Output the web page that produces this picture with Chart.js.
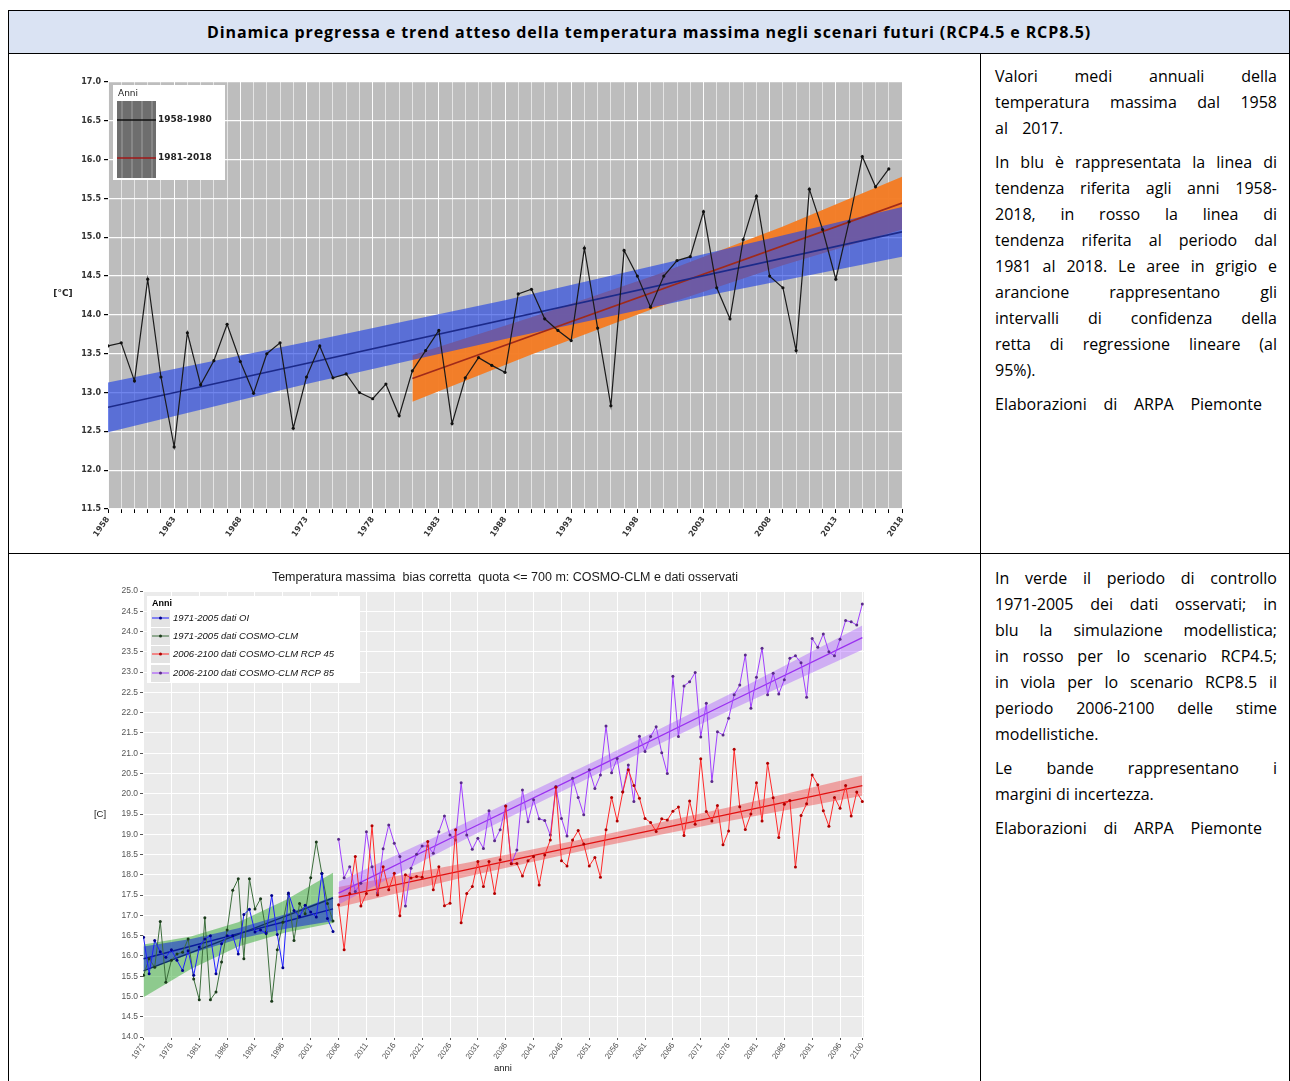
<!DOCTYPE html>
<html><head><meta charset="utf-8">
<script src="https://cdn.jsdelivr.net/npm/chart.js@4/dist/chart.umd.min.js"></script>
<style>
body{margin:0;background:#fff;width:1290px;height:1081px;overflow:hidden;position:relative;font-family:'Open Sans',sans-serif;color:#000;}
.hl{position:absolute;background:#000;height:1px;}
.vl{position:absolute;background:#000;width:1px;}
#hdr{position:absolute;left:9px;top:11px;width:1280px;height:42px;background:#dae3f3;display:flex;align-items:center;justify-content:center;}
#hdrt{font-weight:bold;font-size:16px;white-space:nowrap;}
.txt{position:absolute;left:995px;width:282px;font-size:16px;line-height:26px;}
.txt div{white-space:nowrap;}
.txt div.j{text-align:justify;text-align-last:justify;white-space:normal;}
.gap{height:8px;}
canvas{position:absolute;}
</style></head>
<body>
<div id="hdr"><span id="hdrt">Dinamica pregressa e trend atteso della temperatura massima negli scenari futuri (RCP4.5 e RCP8.5)</span></div>
<div class="hl" style="left:8px;top:10px;width:1282px"></div>
<div class="hl" style="left:8px;top:53px;width:1282px"></div>
<div class="hl" style="left:8px;top:553px;width:1282px"></div>
<div class="vl" style="left:8px;top:10px;height:1071px"></div>
<div class="vl" style="left:980px;top:53px;height:1028px"></div>
<div class="vl" style="left:1289px;top:10px;height:1071px"></div>

<div class="txt" style="top:63px">
<div class="j">Valori medi annuali della</div>
<div class="j">temperatura massima dal 1958</div>
<div class="j" style="width:68px">al 2017.</div>
<div class="gap"></div>
<div class="j">In blu è rappresentata la linea di</div>
<div class="j">tendenza riferita agli anni 1958-</div>
<div class="j">2018, in rosso la linea di</div>
<div class="j">tendenza riferita al periodo dal</div>
<div class="j">1981 al 2018. Le aree in grigio e</div>
<div class="j">arancione rappresentano gli</div>
<div class="j">intervalli di confidenza della</div>
<div class="j">retta di regressione lineare (al</div>
<div>95%).</div>
<div class="gap"></div>
<div class="j" style="width:267px">Elaborazioni di ARPA Piemonte</div>
</div>

<div class="txt" style="top:565px">
<div class="j">In verde il periodo di controllo</div>
<div class="j">1971-2005 dei dati osservati; in</div>
<div class="j">blu la simulazione modellistica;</div>
<div class="j">in rosso per lo scenario RCP4.5;</div>
<div class="j">in viola per lo scenario RCP8.5 il</div>
<div class="j">periodo 2006-2100 delle stime</div>
<div>modellistiche.</div>
<div class="gap"></div>
<div class="j">Le bande rappresentano i</div>
<div>margini di incertezza.</div>
<div class="gap"></div>
<div class="j" style="width:267px">Elaborazioni di ARPA Piemonte</div>
</div>

<canvas id="c1" width="885" height="495" style="left:50px;top:55px;width:885px;height:495px"></canvas>
<canvas id="c2" width="810" height="516" style="left:80px;top:565px;width:810px;height:516px"></canvas>

<script>
// ================= TOP CHART DATA =================
const topYears = [1958,1959,1960,1961,1962,1963,1964,1965,1966,1967,1968,1969,1970,1971,1972,1973,1974,1975,1976,1977,1978,1979,1980,1981,1982,1983,1984,1985,1986,1987,1988,1989,1990,1991,1992,1993,1994,1995,1996,1997,1998,1999,2000,2001,2002,2003,2004,2005,2006,2007,2008,2009,2010,2011,2012,2013,2014,2015,2016,2017];
const topTmax = [13.60,13.64,13.15,14.46,13.20,12.30,13.77,13.10,13.41,13.88,13.40,12.99,13.50,13.64,12.54,13.20,13.60,13.19,13.24,13.00,12.92,13.11,12.70,13.28,13.54,13.80,12.60,13.19,13.45,13.35,13.26,14.27,14.33,13.95,13.80,13.67,14.86,13.83,12.83,14.83,14.50,14.10,14.50,14.70,14.75,15.33,14.35,13.95,14.97,15.53,14.50,14.35,13.54,15.62,15.10,14.46,15.20,16.04,15.65,15.88];
const topTickLabels = [1958,1963,1968,1973,1978,1983,1988,1993,1998,2003,2008,2013,2018];
const topLegendLabels = ['1958-1980','1981-2018'];
// trend 1958-2018 (blue) with confidence band
const blueTrendYears = [1958,2018];
const blueTrend = [12.81,15.07];
const blueBandYears = [1958,1973,1988,2003,2018];
const blueBandHi = [13.13,13.65,14.19,14.78,15.39];
const blueBandLo = [12.49,13.11,13.69,14.24,14.75];
// trend 1981-2018 (red) with confidence band
const redTrendYears = [1981,2018];
const redTrend = [13.18,15.44];
const orangeBandYears = [1981,1990,1999.5,2009,2018];
const orangeBandHi = [13.48,13.97,14.52,15.14,15.78];
const orangeBandLo = [12.88,13.49,14.10,14.64,15.10];

// ================= BOTTOM CHART DATA =================
const ctrlYears = [1971,1972,1973,1974,1975,1976,1977,1978,1979,1980,1981,1982,1983,1984,1985,1986,1987,1988,1989,1990,1991,1992,1993,1994,1995,1996,1997,1998,1999,2000,2001,2002,2003,2004,2005];
const obsOI = [16.46,15.56,16.38,16.10,15.97,16.15,15.89,15.64,16.13,15.52,16.22,16.42,16.50,15.56,16.30,16.50,16.50,16.05,17.02,17.15,16.59,16.64,16.55,17.49,16.53,15.71,17.55,17.12,16.97,17.25,17.08,16.96,18.03,16.92,16.60];
const cosmoCtrl = [15.52,15.93,15.72,16.85,15.35,15.89,16.05,16.09,16.42,15.43,14.92,16.94,14.92,15.11,15.85,16.64,17.62,17.90,15.93,17.90,17.16,17.41,16.59,14.88,16.15,16.83,17.52,16.38,17.29,17.04,17.93,18.81,18.03,17.29,16.86];
const scenYears = [2006,2007,2008,2009,2010,2011,2012,2013,2014,2015,2016,2017,2018,2019,2020,2021,2022,2023,2024,2025,2026,2027,2028,2029,2030,2031,2032,2033,2034,2035,2036,2037,2038,2039,2040,2041,2042,2043,2044,2045,2046,2047,2048,2049,2050,2051,2052,2053,2054,2055,2056,2057,2058,2059,2060,2061,2062,2063,2064,2065,2066,2067,2068,2069,2070,2071,2072,2073,2074,2075,2076,2077,2078,2079,2080,2081,2082,2083,2084,2085,2086,2087,2088,2089,2090,2091,2092,2093,2094,2095,2096,2097,2098,2099,2100];
const rcp45 = [17.26,16.15,17.54,18.45,17.23,17.54,19.21,17.50,18.20,17.63,18.04,16.99,18.00,17.92,17.96,17.94,18.82,17.63,18.20,17.24,17.30,19.11,16.82,17.54,17.71,18.33,17.71,18.33,17.54,18.37,19.70,18.27,18.28,17.97,18.35,18.45,17.75,18.49,18.86,20.16,18.35,18.22,18.86,19.09,18.76,18.22,18.43,17.94,19.11,19.91,19.33,20.04,20.59,20.20,19.89,19.39,19.29,19.07,19.38,19.35,19.57,19.67,18.97,19.82,19.25,20.86,19.56,19.33,19.71,18.74,19.08,21.10,19.68,19.12,19.50,20.27,19.33,20.75,19.90,18.92,19.74,19.83,18.19,19.46,19.75,20.46,20.22,19.58,19.20,19.91,19.64,20.20,19.45,20.04,19.81];
const rcp85 = [18.88,17.93,18.20,17.59,17.79,19.06,18.20,17.55,18.64,19.23,18.78,18.45,17.23,18.16,18.51,18.71,18.71,18.53,19.06,19.45,18.98,18.86,20.27,18.98,18.63,18.90,18.65,19.58,18.84,19.11,19.70,18.28,18.61,20.09,19.31,19.85,19.38,19.34,18.98,20.18,19.39,18.96,20.38,19.91,19.48,20.59,20.13,20.46,21.67,20.52,20.87,20.05,20.71,19.81,21.42,21.04,21.41,21.65,21.01,20.50,22.90,21.41,22.66,22.76,22.99,21.40,22.23,20.30,21.53,21.45,21.86,22.44,22.68,23.42,22.11,22.87,23.59,22.44,22.97,22.46,22.81,23.34,23.40,23.23,22.38,23.83,23.61,23.94,23.50,23.40,23.81,24.27,24.24,24.16,24.68];
const botTickLabels = [1971,1976,1981,1986,1991,1996,2001,2006,2011,2016,2021,2026,2031,2036,2041,2046,2051,2056,2061,2066,2071,2076,2081,2086,2091,2096,2100];
const botLegendLabels = ['1971-2005 dati OI','1971-2005 dati COSMO-CLM','2006-2100 dati COSMO-CLM RCP 45','2006-2100 dati COSMO-CLM RCP 85'];
// trends and uncertainty bands
const ctrlBandYears = [1971,1979.5,1988,1996.5,2005];
const oiTrend = [15.93,16.24,16.55,16.85,17.16];
const oiBandHi = [16.23,16.42,16.68,17.03,17.46];
const oiBandLo = [15.63,16.06,16.42,16.67,16.86];
const cosmoTrend = [15.63,16.08,16.53,16.98,17.43];
const cosmoBandHi = [16.28,16.48,16.83,17.38,18.05];
const cosmoBandLo = [14.98,15.68,16.23,16.58,16.81];
const scenBandYears = [2006,2029.5,2053,2076.5,2100];
const rcp45Trend = [17.45,18.14,18.83,19.51,20.20];
const rcp45BandHi = [17.70,18.31,18.97,19.68,20.45];
const rcp45BandLo = [17.20,17.97,18.69,19.34,19.95];
const rcp85Trend = [17.55,19.13,20.70,22.28,23.85];
const rcp85BandHi = [17.83,19.33,20.87,22.48,24.15];
const rcp85BandLo = [17.27,18.93,20.53,22.08,23.55];

// header width fit (layout only)
(function(){const s=document.getElementById('hdrt');const w=s.getBoundingClientRect().width;const n=s.textContent.length;s.style.letterSpacing=((884-w)/n).toFixed(3)+'px';})();

const xy = (xs, ys) => xs.map((x,i)=>({x:x, y:ys[i]}));

// ============ TOP CHART ============
const topBg = {
  id:'topBg',
  beforeDraw(c){const a=c.chartArea,g=c.ctx;g.save();g.fillStyle='#bdbdbd';g.fillRect(a.left,a.top,a.right-a.left,a.bottom-a.top);g.restore();},
  afterDraw(c){
    const g=c.ctx; g.save();
    g.fillStyle='#222'; g.font='bold 9px "DejaVu Sans"'; g.textAlign='center'; g.textBaseline='middle';
    g.fillText('[°C]',13,239);
    g.fillStyle='#fff'; g.fillRect(63,30,112,95);
    g.fillStyle='#222'; g.font='9px "DejaVu Sans"'; g.textAlign='left';
    g.fillText('Anni',68,39);
    g.fillStyle='#6e6e6e'; g.fillRect(67,46,39,77);
    g.strokeStyle='rgba(255,255,255,0.35)'; g.lineWidth=1;
    for(let k=0;k<4;k++){g.beginPath();g.moveTo(72+k*10,46);g.lineTo(72+k*10,123);g.stroke();}
    g.lineWidth=1.6;
    g.strokeStyle='#111'; g.beginPath(); g.moveTo(67,65); g.lineTo(106,65); g.stroke();
    g.strokeStyle='#a01818'; g.beginPath(); g.moveTo(67,103); g.lineTo(106,103); g.stroke();
    g.fillStyle='#222'; g.font='bold 9px "DejaVu Sans"';
    g.fillText(topLegendLabels[0],108,65);
    g.fillText(topLegendLabels[1],108,103);
    g.restore();
  }
};
new Chart(document.getElementById('c1'),{
  type:'line',
  data:{datasets:[
    {data:xy(topYears,topTmax),borderColor:'#1a1a1a',borderWidth:1.2,pointRadius:1.6,pointBackgroundColor:'#111',pointBorderWidth:0,order:0,fill:false},
    {data:xy(blueTrendYears,blueTrend),borderColor:'#1c2a8a',borderWidth:1.6,pointRadius:0,order:1,fill:false},
    {data:xy(redTrendYears,redTrend),borderColor:'#a02a1a',borderWidth:1.6,pointRadius:0,order:1,fill:false},
    {data:xy(blueBandYears,blueBandHi),borderWidth:0,pointRadius:0,order:2,fill:false},
    {data:xy(blueBandYears,blueBandLo),borderWidth:0,pointRadius:0,order:2,fill:'-1',backgroundColor:'rgba(40,72,228,0.66)'},
    {data:xy(orangeBandYears,orangeBandHi),borderWidth:0,pointRadius:0,order:3,fill:false},
    {data:xy(orangeBandYears,orangeBandLo),borderWidth:0,pointRadius:0,order:3,fill:'-1',backgroundColor:'rgba(244,124,36,0.97)'}
  ]},
  options:{
    responsive:false,animation:false,
    layout:{padding:{left:0,right:33,top:27,bottom:0}},
    plugins:{legend:{display:false},tooltip:{enabled:false}},
    scales:{
      x:{type:'linear',min:1958,max:2018,
        afterBuildTicks(s){const t=[];for(let v=s.min;v<=s.max;v++)t.push({value:v});s.ticks=t;},
        afterFit(s){s.height=41;},
        border:{display:false},
        grid:{color:(ctx)=>topTickLabels.includes(ctx.tick&&ctx.tick.value)?'rgba(255,255,255,0.95)':'rgba(255,255,255,0.6)',lineWidth:1,tickColor:'#000',tickLength:4},
        ticks:{autoSkip:false,maxRotation:55,minRotation:55,font:{size:8,weight:'bold',family:'DejaVu Sans'},color:'#333',padding:2,
          callback:(v)=>topTickLabels.includes(v)?String(v):''}
      },
      y:{min:11.5,max:17.0,
        afterFit(s){s.width=58;},
        border:{display:false},
        grid:{color:'rgba(255,255,255,0.95)',lineWidth:1.2,tickColor:'#000',tickLength:4},
        ticks:{stepSize:0.5,font:{size:8,weight:'bold',family:'DejaVu Sans'},color:'#333',padding:3,callback:(v)=>Number(v).toFixed(1)}
      }
    }
  },
  plugins:[topBg]
});

// ============ BOTTOM CHART ============
const botExtras = {
  id:'botExtras',
  beforeDraw(c){const a=c.chartArea,g=c.ctx;g.save();g.fillStyle='#ebebeb';g.fillRect(a.left,a.top,a.right-a.left,a.bottom-a.top);g.restore();},
  afterDraw(c){
    const g=c.ctx; g.save();
    g.fillStyle='#1a1a1a'; g.textAlign='center'; g.textBaseline='middle';
    g.font='12.5px "Liberation Sans"';
    g.fillText('Temperatura massima  bias corretta  quota <= 700 m: COSMO-CLM e dati osservati',425,13);
    g.font='9.5px "Liberation Sans"';
    g.fillText('[C]',20,249);
    g.fillText('anni',423,503);
    g.fillStyle='#fff'; g.fillRect(67,31,213,87);
    g.fillStyle='#000'; g.textAlign='left';
    g.font='bold 9px "Liberation Sans"'; g.fillText('Anni',72,39);
    const cols=['#2020ff','#3c6e3c','#ff2a2a','#a040ff'];
    const dots=['#00008b','#1a3a1a','#b00000','#5a2a8a'];
    const ys=[53,71,89,108];
    for(let i=0;i<4;i++){
      g.fillStyle='#e3e3e3'; g.fillRect(71,ys[i]-8,19,17);
      g.strokeStyle=cols[i]; g.lineWidth=1; g.beginPath(); g.moveTo(72,ys[i]); g.lineTo(89,ys[i]); g.stroke();
      g.fillStyle=dots[i]; g.beginPath(); g.arc(80.5,ys[i],1.5,0,Math.PI*2); g.fill();
      g.fillStyle='#111'; g.font='italic 9.5px "Liberation Sans"'; g.fillText(botLegendLabels[i],93,ys[i]);
    }
    g.restore();
  }
};
const ln = (xs,ys,col,dot,order)=>({data:xy(xs,ys),borderColor:col,borderWidth:1,pointRadius:1.5,pointBackgroundColor:dot,pointBorderWidth:0,order:order,fill:false});
new Chart(document.getElementById('c2'),{
  type:'line',
  data:{datasets:[
    ln(scenYears,rcp45,'#ff2a2a','#b00000',0),
    ln(scenYears,rcp85,'#a040ff','#5a2a8a',1),
    ln(ctrlYears,obsOI,'#2020ff','#00008b',2),
    ln(ctrlYears,cosmoCtrl,'#3c6e3c','#1a3a1a',3),
    {data:xy(scenBandYears,rcp45Trend),borderColor:'#e01010',borderWidth:1.3,pointRadius:0,order:5,fill:false},
    {data:xy(scenBandYears,rcp85Trend),borderColor:'#9a30f0',borderWidth:1.3,pointRadius:0,order:5,fill:false},
    {data:xy(ctrlBandYears,oiTrend),borderColor:'#0a1a9a',borderWidth:1.5,pointRadius:0,order:5,fill:false},
    {data:xy(ctrlBandYears,cosmoTrend),borderColor:'#10306a',borderWidth:1.5,pointRadius:0,order:5,fill:false},
    {data:xy(scenBandYears,rcp85BandHi),borderWidth:0,pointRadius:0,order:7,fill:false},
    {data:xy(scenBandYears,rcp85BandLo),borderWidth:0,pointRadius:0,order:7,fill:'-1',backgroundColor:'rgba(170,90,255,0.42)'},
    {data:xy(scenBandYears,rcp45BandHi),borderWidth:0,pointRadius:0,order:8,fill:false},
    {data:xy(scenBandYears,rcp45BandLo),borderWidth:0,pointRadius:0,order:8,fill:'-1',backgroundColor:'rgba(240,60,60,0.42)'},
    {data:xy(ctrlBandYears,oiBandHi),borderWidth:0,pointRadius:0,order:9,fill:false},
    {data:xy(ctrlBandYears,oiBandLo),borderWidth:0,pointRadius:0,order:9,fill:'-1',backgroundColor:'rgba(30,60,205,0.62)'},
    {data:xy(ctrlBandYears,cosmoBandHi),borderWidth:0,pointRadius:0,order:10,fill:false},
    {data:xy(ctrlBandYears,cosmoBandLo),borderWidth:0,pointRadius:0,order:10,fill:'-1',backgroundColor:'rgba(50,170,50,0.5)'}
  ]},
  options:{
    responsive:false,animation:false,
    layout:{padding:{left:0,right:26,top:26,bottom:0}},
    plugins:{legend:{display:false},tooltip:{enabled:false}},
    scales:{
      x:{type:'linear',min:1970.9,max:2100.3,
        afterBuildTicks(s){s.ticks=botTickLabels.map(v=>({value:v}));},
        afterFit(s){s.height=44;},
        border:{display:false},
        grid:{color:'#ffffff',lineWidth:1,tickColor:'#555',tickLength:3},
        ticks:{autoSkip:false,maxRotation:55,minRotation:55,font:{size:8,family:'Liberation Sans'},color:'#555',padding:1,callback:(v)=>String(v)}
      },
      y:{min:14,max:25,
        afterFit(s){s.width=63;},
        border:{display:false},
        grid:{color:'#ffffff',lineWidth:1,tickColor:'#555',tickLength:3},
        ticks:{stepSize:0.5,font:{size:8.5,family:'Liberation Sans'},color:'#555',padding:2,callback:(v)=>Number(v).toFixed(1)}
      }
    }
  },
  plugins:[botExtras]
});
</script>
</body></html>
